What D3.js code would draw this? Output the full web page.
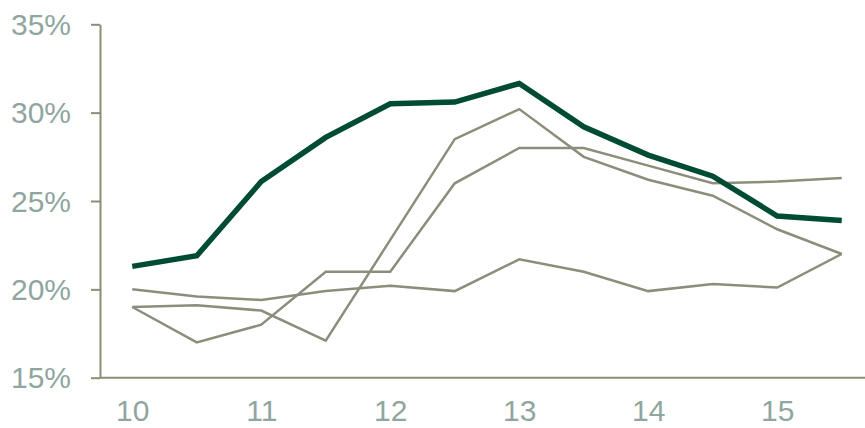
<!DOCTYPE html>
<html>
<head>
<meta charset="utf-8">
<script src="https://cdn.jsdelivr.net/npm/d3@7"></script>
<style>
  html, body { margin: 0; padding: 0; background: #fff; overflow: hidden; }
  svg { display: block; }
  .axis text { font-family: "Liberation Sans", Arial, sans-serif; font-size: 30px; fill: #8fa69f; }
  .axis path, .axis line { stroke: #8c8c77; stroke-width: 2px; }
</style>
</head>
<body>
<svg id="chart" width="865" height="428"></svg>
<script>
// Half-year periods along the x axis
const periods = ["10", "10.5", "11", "11.5", "12", "12.5", "13", "13.5", "14", "14.5", "15", "15.5"];
// Labelled years
const yearLabels = ["10", "11", "12", "13", "14", "15"];
// Percentage ticks
const yTicks = [15, 20, 25, 30, 35];

// Highlighted series (percent)
const mainSeries = [21.3, 21.9, 26.1, 28.6, 30.5, 30.6, 31.65, 29.2, 27.6, 26.4, 24.15, 23.9];
// Comparison series (percent)
const compA = [19.0, 19.1, 18.8, 17.1, 22.8, 28.5, 30.2, 27.5, 26.2, 25.3, 23.4, 22.0];
const compB = [19.0, 17.0, 18.0, 21.0, 21.0, 26.0, 28.0, 28.0, 27.0, 26.0, 26.1, 26.3];
const compC = [20.0, 19.6, 19.4, 19.9, 20.2, 19.9, 21.7, 21.0, 19.9, 20.3, 20.1, 22.0];

const svg = d3.select("#chart");

const plotLeft = 100, plotRight = 874, plotTop = 24.3, plotBottom = 377.7;

const x = d3.scalePoint().domain(periods).range([plotLeft, plotRight]).padding(0.5);
const y = d3.scaleLinear().domain([15, 35]).range([plotBottom, plotTop]);

// Y axis
svg.append("g")
  .attr("class", "axis")
  .attr("transform", `translate(${plotLeft},0)`)
  .call(d3.axisLeft(y).tickValues(yTicks).tickFormat(d => d + "%").tickSize(9).tickPadding(20).tickSizeOuter(0))
  .call(g => g.selectAll("text").attr("dy", "0.34em"));

// X axis
svg.append("g")
  .attr("class", "axis")
  .attr("transform", `translate(0,${plotBottom})`)
  .call(d3.axisBottom(x).tickValues(yearLabels).tickSize(0).tickPadding(22).tickSizeOuter(0))
  .call(g => g.select(".domain").attr("d", `M${plotLeft},0H865`));

const line = d3.line()
  .x((d, i) => x(periods[i]))
  .y(d => y(d));

// Comparison lines
[compA, compB, compC].forEach(s => {
  svg.append("path")
    .datum(s)
    .attr("fill", "none")
    .attr("stroke", "#8d8d7b")
    .attr("stroke-width", 2.5)
    .attr("stroke-linejoin", "miter")
    .attr("d", line);
});

// Highlighted line
svg.append("path")
  .datum(mainSeries)
  .attr("fill", "none")
  .attr("stroke", "#004b33")
  .attr("stroke-width", 5.5)
  .attr("stroke-linejoin", "miter")
  .attr("d", line);
</script>
</body>
</html>
